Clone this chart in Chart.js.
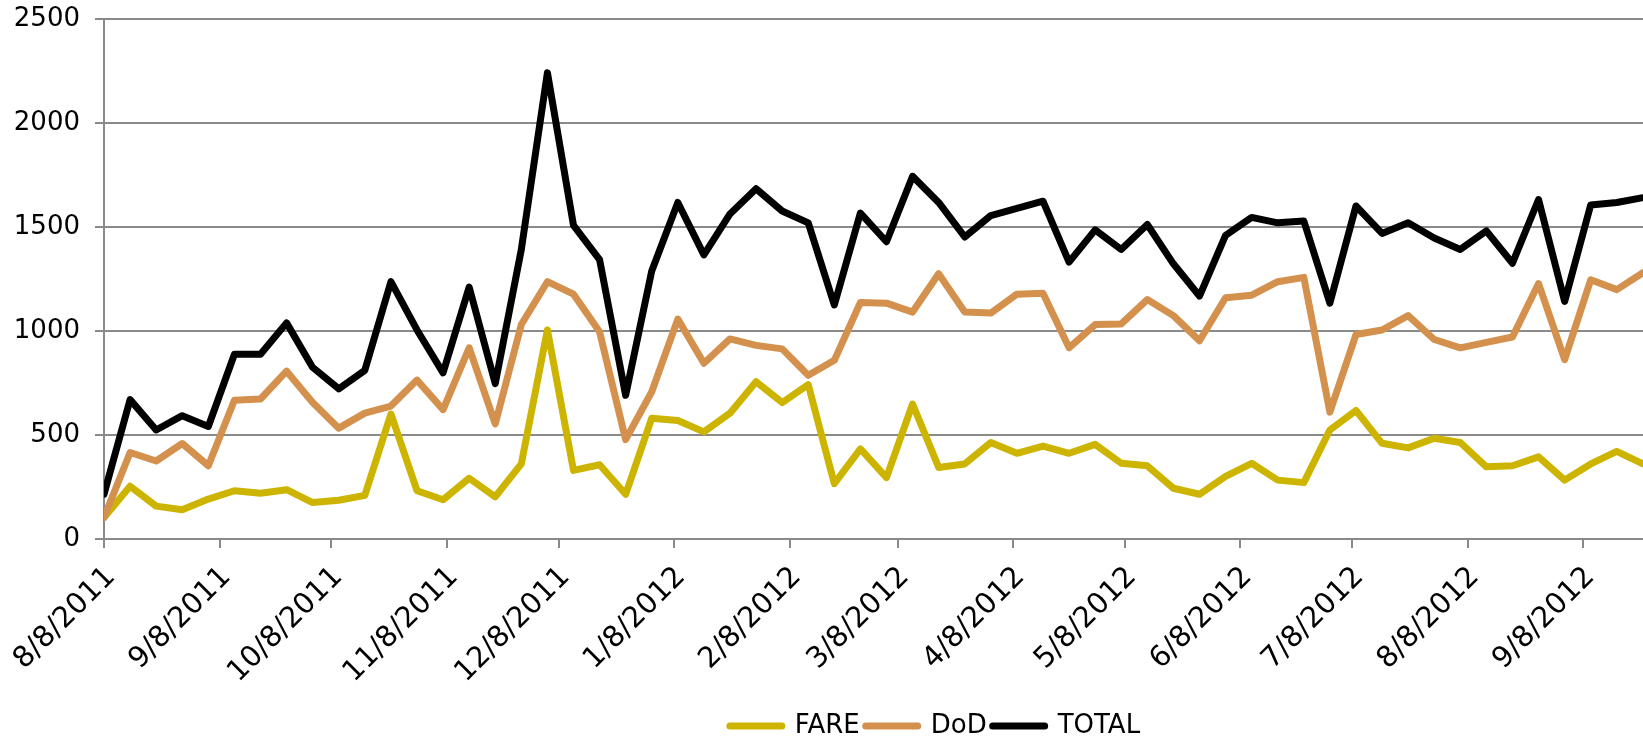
<!DOCTYPE html>
<html>
<head>
<meta charset="utf-8">
<script src="https://cdn.jsdelivr.net/npm/chart.js@4/dist/chart.umd.min.js"></script>
<style>
  html, body { margin: 0; padding: 0; background: #fff; overflow: hidden; }
  #wrap { position: relative; width: 1859px; height: 741px; }
</style>
</head>
<body>
<div id="wrap"><canvas id="chart"></canvas></div>
<script>
// weekly observations
const weeks = [
  '8/8/2011', '8/15/2011', '8/22/2011', '8/29/2011', '9/5/2011', '9/12/2011', '9/19/2011', '9/26/2011',
  '10/3/2011', '10/10/2011', '10/17/2011', '10/24/2011', '10/31/2011', '11/7/2011', '11/14/2011', '11/21/2011',
  '11/28/2011', '12/5/2011', '12/12/2011', '12/19/2011', '12/26/2011', '1/2/2012', '1/9/2012', '1/16/2012',
  '1/23/2012', '1/30/2012', '2/6/2012', '2/13/2012', '2/20/2012', '2/27/2012', '3/5/2012', '3/12/2012',
  '3/19/2012', '3/26/2012', '4/2/2012', '4/9/2012', '4/16/2012', '4/23/2012', '4/30/2012', '5/7/2012',
  '5/14/2012', '5/21/2012', '5/28/2012', '6/4/2012', '6/11/2012', '6/18/2012', '6/25/2012', '7/2/2012',
  '7/9/2012', '7/16/2012', '7/23/2012', '7/30/2012', '8/6/2012', '8/13/2012', '8/20/2012', '8/27/2012',
  '9/3/2012', '9/10/2012', '9/17/2012', '9/24/2012'
];

const fare = [
  103, 254, 158, 141, 192, 232, 220, 237, 175, 186,
  210, 601, 232, 189, 292, 203, 361, 1005, 330, 357,
  215, 581, 570, 515, 605, 756, 656, 742, 266, 433,
  295, 649, 344, 361, 464, 412, 447, 412, 455, 364,
  352, 244, 215, 301, 364, 283, 271, 524, 618, 460,
  438, 484, 464, 347, 352, 395, 283, 361, 421, 361
];

const dod = [
  103, 416, 375, 459, 352, 667, 673, 807, 656, 533,
  605, 639, 764, 622, 919, 553, 1031, 1237, 1177, 996,
  478, 708, 1057, 845, 962, 931, 914, 787, 859, 1137,
  1134, 1091, 1275, 1091, 1086, 1177, 1182, 919, 1031, 1034,
  1151, 1074, 953, 1160, 1172, 1237, 1258, 610, 983, 1005,
  1074, 959, 919, 945, 971, 1228, 862, 1246, 1199, 1280
];

const total = [
  215, 670, 524, 593, 541, 888, 888, 1039, 825, 722,
  811, 1237, 1005, 799, 1211, 747, 1392, 2242, 1508, 1343,
  691, 1289, 1618, 1366, 1563, 1684, 1577, 1520, 1125, 1567,
  1429, 1744, 1618, 1452, 1555, 1589, 1624, 1331, 1486, 1392,
  1512, 1323, 1168, 1460, 1546, 1520, 1529, 1134, 1601, 1469,
  1520, 1447, 1392, 1481, 1326, 1632, 1142, 1606, 1618, 1641
];

const tickLabels = [
  '8/8/2011', '9/8/2011', '10/8/2011', '11/8/2011', '12/8/2011', '1/8/2012', '2/8/2012',
  '3/8/2012', '4/8/2012', '5/8/2012', '6/8/2012', '7/8/2012', '8/8/2012', '9/8/2012'
];
const axisEnd = '11/21/2012';

function toDay(s) {
  const p = s.split('/');
  return Date.UTC(+p[2], +p[0] - 1, +p[1]) / 86400000;
}

const tickDays = tickLabels.map(toDay);

function points(values) {
  return values.map((v, i) => ({ x: toDay(weeks[i]), y: v }));
}

const gray = '#8a8a8a';
const font = { family: 'DejaVu Sans', size: 26 };
const xFont = { family: 'DejaVu Sans', size: 29 };

new Chart(document.getElementById('chart'), {
  type: 'line',
  data: {
    datasets: [
      { label: 'FARE', data: points(fare), borderColor: '#cdb400', backgroundColor: '#cdb400', order: 3 },
      { label: 'DoD', data: points(dod), borderColor: '#d4914e', backgroundColor: '#d4914e', order: 2 },
      { label: 'TOTAL', data: points(total), borderColor: '#000000', backgroundColor: '#000000', order: 1 }
    ]
  },
  options: {
    responsive: true,
    maintainAspectRatio: false,
    animation: false,
    layout: { padding: { top: 19, left: 11, right: 0, bottom: -8 } },
    elements: {
      line: { borderWidth: 7, tension: 0, borderJoinStyle: 'round', borderCapStyle: 'round' },
      point: { radius: 0, hoverRadius: 0 }
    },
    plugins: {
      legend: {
        position: 'bottom',
        labels: {
          usePointStyle: true,
          pointStyle: 'line',
          pointStyleWidth: 52,
          padding: 6,
          color: '#000',
          font: font,
          sort: (a, b) => a.datasetIndex - b.datasetIndex,
          generateLabels: chart => Chart.defaults.plugins.legend.labels.generateLabels(chart)
            .map(item => Object.assign(item, { lineWidth: 7, lineCap: 'round' }))
        }
      },
      tooltip: { enabled: false }
    },
    scales: {
      x: {
        type: 'linear',
        min: tickDays[0],
        max: toDay(axisEnd),
        afterBuildTicks: axis => { axis.ticks = tickDays.map(v => ({ value: v })); },
        afterFit: axis => { axis.height = 168; axis.paddingLeft = 0; },
        ticks: {
          autoSkip: false,
          maxRotation: 45,
          minRotation: 45,
          padding: 12,
          labelOffset: 7,
          color: '#000',
          font: xFont,
          callback: v => tickLabels[tickDays.indexOf(v)]
        },
        grid: { drawOnChartArea: false, color: gray, lineWidth: 2, tickLength: 9 },
        border: { color: gray, width: 2 }
      },
      y: {
        min: 0,
        max: 2500,
        afterFit: axis => { axis.width = 93; axis.paddingTop = 0; axis.paddingBottom = 0; },
        ticks: { stepSize: 500, padding: 15, color: '#000', font: font, callback: v => String(v) },
        grid: { color: gray, lineWidth: 2, tickLength: 9 },
        border: { color: gray, width: 2 }
      }
    }
  }
});
</script>
</body>
</html>
